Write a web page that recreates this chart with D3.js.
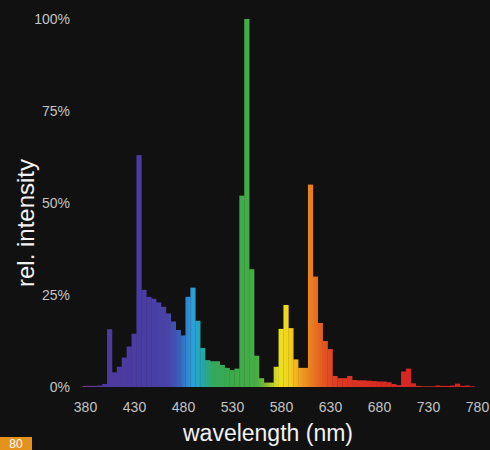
<!DOCTYPE html>
<html>
  <head>
    <meta http-equiv="Content-Type" content="text/html;charset=utf-8">
    <script src="https://d3js.org/d3.v7.min.js"></script>
    <style>
      body { margin: 0; background: #111111; }
      svg { display: block; }
    </style>
  </head>
  <body>
    <svg id="chart" width="490" height="450"></svg>
    <script type="text/javascript">

// wavelength bins (nm), 5 nm wide
var wavelengths = d3.range(380, 781, 5);
// relative intensity (%) per bin
var intensity = [
  0.3, 0.3, 0.3, 0.4, 0.8, 15.7, 4, 5.5, 8, 11,
  14.5, 63, 26.4, 24.5, 24, 23, 21.8, 20, 17.8, 15.5,
  14, 24.5, 27, 18, 10.6, 7.3, 7, 7, 6, 5.2,
  4.6, 5, 52, 100, 32, 8.5, 2.4, 1.2, 1.2, 5.5,
  15.8, 22.3, 16, 7.5, 5.2, 5.2, 55, 30, 17.4, 12.5,
  10.3, 3, 2.4, 2.4, 3, 1.9, 1.8, 1.8, 1.7, 1.6,
  1.5, 1.5, 1.3, 0.8, 0.5, 4.2, 5, 1, 0.3, 0.2,
  0.2, 0.2, 0.4, 0.3, 0.3, 0.4, 0.9, 0.3, 0.4, 0.2,
  0
];
var xTicks = [380, 430, 480, 530, 580, 630, 680, 730, 780];
var yTicks = [0, 25, 50, 75, 100];

// spectrum colours along the wavelength axis
var specStops = [
  [380, "#7a3a8c"], [400, "#4e3a9e"], [440, "#4a3ca4"], [465, "#4844a8"],
  [475, "#3c5cb8"], [490, "#2aa0dc"], [500, "#22a8a8"], [510, "#34a860"],
  [530, "#3caa4a"], [555, "#46ad44"], [565, "#8ab838"], [578, "#e8e020"],
  [588, "#f2d41c"], [600, "#f0a020"], [612, "#e87a20"], [625, "#e25222"],
  [640, "#dc3822"], [680, "#d82a22"], [780, "#d42020"]
];

var svg = d3.select("#chart");

svg.append("rect")
    .attr("width", 490)
    .attr("height", 450)
    .attr("fill", "#111111");

var x = d3.scaleLinear().domain([380, 780]).range([85, 477]);
var y = d3.scaleLinear().domain([0, 100]).range([387, 19]);

var grad = svg.append("defs").append("linearGradient")
    .attr("id", "spec")
    .attr("gradientUnits", "userSpaceOnUse")
    .attr("x1", x(380)).attr("x2", x(780))
    .attr("y1", 0).attr("y2", 0);

grad.selectAll("stop")
  .data(specStops)
  .join("stop")
    .attr("offset", d => (d[0] - 380) / 400)
    .attr("stop-color", d => d[1]);

svg.append("g")
  .selectAll("rect")
  .data(wavelengths)
  .join("rect")
    .attr("x", d => x(d - 2.5))
    .attr("width", d => x(d + 2.5) - x(d - 2.5) + 0.3)
    .attr("y", (d, i) => y(intensity[i]))
    .attr("height", (d, i) => y(0) - y(intensity[i]))
    .attr("fill", "url(#spec)");

var xAxis = svg.append("g")
    .attr("transform", "translate(0," + y(0) + ")")
    .call(d3.axisBottom(x).tickValues(xTicks).tickSize(0).tickPadding(15));

var yAxis = svg.append("g")
    .attr("transform", "translate(85,0)")
    .call(d3.axisLeft(y).tickValues(yTicks).tickSize(0).tickPadding(15)
      .tickFormat(d => d + "%"));

[xAxis, yAxis].forEach(function (g) {
  g.select(".domain").remove();
  g.selectAll("text")
    .attr("fill", "#c4c4c4")
    .style("font-family", "'Liberation Sans', Arial, sans-serif")
    .style("font-size", "14px");
});

svg.append("text")
    .attr("x", 268)
    .attr("y", 441)
    .attr("text-anchor", "middle")
    .attr("fill", "#f2f2f2")
    .style("font-family", "'Liberation Sans', Arial, sans-serif")
    .style("font-size", "23px")
    .text("wavelength (nm)");

svg.append("text")
    .attr("transform", "translate(34,223) rotate(-90)")
    .attr("text-anchor", "middle")
    .attr("fill", "#f2f2f2")
    .style("font-family", "'Liberation Sans', Arial, sans-serif")
    .style("font-size", "24px")
    .text("rel. intensity");

// page number tab at the bottom edge
svg.append("rect")
    .attr("x", 0)
    .attr("y", 437)
    .attr("width", 32)
    .attr("height", 13)
    .attr("fill", "#e4921c");

svg.append("text")
    .attr("x", 16)
    .attr("y", 448)
    .attr("text-anchor", "middle")
    .attr("fill", "#ffffff")
    .style("font-family", "'Liberation Sans', Arial, sans-serif")
    .style("font-size", "12px")
    .text("80");

    </script>
  </body>
</html>
